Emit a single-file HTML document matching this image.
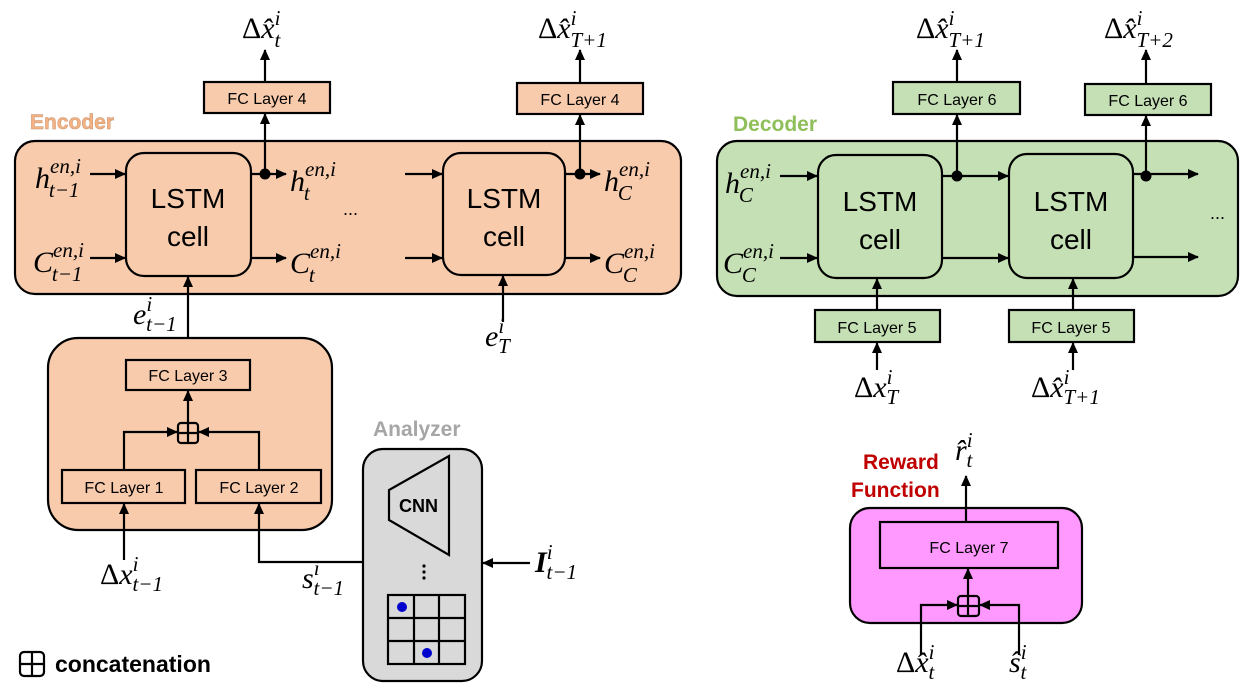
<!DOCTYPE html>
<html><head><meta charset="utf-8"><style>
body{margin:0;background:#fff}
svg{display:block}
.m{font-family:"Liberation Serif",serif;font-style:italic;font-size:30px}
.s{font-size:21px}
.fc{font-family:"Liberation Sans","DejaVu Sans",sans-serif;font-size:16px;text-anchor:middle}
.cell{font-family:"Liberation Sans","DejaVu Sans",sans-serif;font-size:28px;text-anchor:middle}
.lbl{font-family:"Liberation Sans","DejaVu Sans",sans-serif;font-weight:bold;font-size:21px}
</style></head><body>
<svg width="1256" height="700" viewBox="0 0 1256 700" xmlns="http://www.w3.org/2000/svg">
<defs><marker id="a" markerWidth="12" markerHeight="12" refX="10" refY="6" orient="auto" markerUnits="userSpaceOnUse"><path d="M0,1 L11,6 L0,11z" fill="#000"/></marker></defs>
<g stroke="#000" stroke-width="2.2">
<!-- Encoder -->
<rect x="15" y="141" width="666" height="153" rx="20" fill="#f8cbad"/>
<rect x="126" y="153" width="125" height="123" rx="18" fill="#f8cbad"/>
<rect x="443" y="153" width="122" height="122" rx="18" fill="#f8cbad"/>
<rect x="204" y="82" width="126" height="31" fill="#f8cbad"/>
<rect x="517" y="83" width="126" height="31" fill="#f8cbad"/>
<line x1="90" y1="174" x2="125" y2="174" marker-end="url(#a)"/>
<line x1="90" y1="258" x2="125" y2="258" marker-end="url(#a)"/>
<line x1="251" y1="174" x2="286" y2="174" marker-end="url(#a)"/>
<line x1="251" y1="258" x2="286" y2="258" marker-end="url(#a)"/>
<line x1="405" y1="174" x2="442" y2="174" marker-end="url(#a)"/>
<line x1="405" y1="258" x2="442" y2="258" marker-end="url(#a)"/>
<line x1="565" y1="174" x2="600" y2="174" marker-end="url(#a)"/>
<line x1="565" y1="258" x2="600" y2="258" marker-end="url(#a)"/>
<line x1="265" y1="174" x2="265" y2="114" marker-end="url(#a)"/>
<line x1="265" y1="82" x2="265" y2="50" marker-end="url(#a)"/>
<line x1="580" y1="174" x2="580" y2="115" marker-end="url(#a)"/>
<line x1="580" y1="83" x2="580" y2="50" marker-end="url(#a)"/>
<line x1="188" y1="360" x2="188" y2="277" marker-end="url(#a)"/>
<line x1="503" y1="322" x2="503" y2="276" marker-end="url(#a)"/>
<!-- bottom encoder block -->
<rect x="48" y="338" width="284" height="192" rx="30" fill="#f8cbad"/>
<rect x="126" y="360" width="124" height="30" fill="#f8cbad"/>
<rect x="62" y="470" width="123" height="33" fill="#f8cbad"/>
<rect x="196" y="470" width="125" height="33" fill="#f8cbad"/>
<line x1="188" y1="423" x2="188" y2="391" marker-end="url(#a)"/>
<polyline points="124,470 124,432 177,432" fill="none" marker-end="url(#a)"/>
<polyline points="259,470 259,432 199,432" fill="none" marker-end="url(#a)"/>
<rect x="178" y="423" width="20" height="20" rx="3" fill="none"/>
<line x1="188" y1="423" x2="188" y2="443"/><line x1="178" y1="433" x2="198" y2="433"/>
<line x1="124" y1="560" x2="124" y2="504" marker-end="url(#a)"/>
<polyline points="362,562 259,562 259,504" fill="none" marker-end="url(#a)"/>
<!-- Analyzer -->
<rect x="363" y="449" width="119" height="232" rx="20" fill="#d9d9d9"/>
<polygon points="449,456 449,555 389,520 389,490" fill="#d9d9d9"/>
<rect x="388" y="595" width="77" height="69" fill="none"/>
<line x1="414" y1="595" x2="414" y2="664"/><line x1="439" y1="595" x2="439" y2="664"/>
<line x1="388" y1="618" x2="465" y2="618"/><line x1="388" y1="641" x2="465" y2="641"/>
<line x1="530" y1="563" x2="483" y2="563" marker-end="url(#a)"/>
<!-- Decoder -->
<rect x="717" y="141" width="521" height="155" rx="20" fill="#c5e0b4"/>
<rect x="818" y="155" width="124" height="123" rx="18" fill="#c5e0b4"/>
<rect x="1009" y="154" width="124" height="124" rx="18" fill="#c5e0b4"/>
<rect x="893" y="82" width="127" height="32" fill="#c5e0b4"/>
<rect x="1085" y="84" width="126" height="31" fill="#c5e0b4"/>
<rect x="815" y="310" width="125" height="32" fill="#c5e0b4"/>
<rect x="1009" y="310" width="125" height="32" fill="#c5e0b4"/>
<line x1="780" y1="176" x2="817" y2="176" marker-end="url(#a)"/>
<line x1="780" y1="258" x2="817" y2="258" marker-end="url(#a)"/>
<line x1="942" y1="176" x2="1008" y2="176" marker-end="url(#a)"/>
<line x1="942" y1="258" x2="1008" y2="258" marker-end="url(#a)"/>
<line x1="1133" y1="174" x2="1198" y2="174" marker-end="url(#a)"/>
<line x1="1133" y1="257" x2="1198" y2="257" marker-end="url(#a)"/>
<line x1="957" y1="176" x2="957" y2="115" marker-end="url(#a)"/>
<line x1="957" y1="82" x2="957" y2="50" marker-end="url(#a)"/>
<line x1="1146" y1="176" x2="1146" y2="116" marker-end="url(#a)"/>
<line x1="1146" y1="84" x2="1146" y2="50" marker-end="url(#a)"/>
<line x1="877" y1="310" x2="877" y2="279" marker-end="url(#a)"/>
<line x1="1073" y1="310" x2="1073" y2="279" marker-end="url(#a)"/>
<line x1="877" y1="370" x2="877" y2="343" marker-end="url(#a)"/>
<line x1="1073" y1="370" x2="1073" y2="343" marker-end="url(#a)"/>
<!-- Reward -->
<rect x="850" y="508" width="232" height="115" rx="20" fill="#ff99ff"/>
<rect x="880" y="522" width="178" height="46" fill="#ff99ff"/>
<line x1="966" y1="522" x2="966" y2="476" marker-end="url(#a)"/>
<line x1="968" y1="596" x2="968" y2="569" marker-end="url(#a)"/>
<polyline points="921,655 921,605 957,605" fill="none" marker-end="url(#a)"/>
<polyline points="1019,655 1019,605 980,605" fill="none" marker-end="url(#a)"/>
<rect x="958" y="596" width="21" height="20" rx="3" fill="none"/>
<line x1="968" y1="596" x2="968" y2="616"/><line x1="958" y1="606" x2="979" y2="606"/>
<!-- legend -->
<rect x="20" y="652" width="24" height="24" rx="4" fill="none"/>
<line x1="32" y1="652" x2="32" y2="676"/><line x1="20" y1="664" x2="44" y2="664"/>
</g>
<g fill="#000">
<circle cx="265" cy="174" r="5.5"/><circle cx="580" cy="174" r="5.5"/>
<circle cx="957" cy="176" r="5.5"/><circle cx="1146" cy="176" r="5.5"/>
<circle cx="424" cy="566" r="1.6"/><circle cx="424" cy="572" r="1.6"/><circle cx="424" cy="578" r="1.6"/>
</g>
<circle cx="402" cy="607" r="5" fill="#0000cc"/><circle cx="427" cy="653" r="5" fill="#0000cc"/>
<!-- text -->
<g class="cell">
<text x="188" y="208">LSTM</text><text x="188" y="246">cell</text>
<text x="504" y="208">LSTM</text><text x="504" y="246">cell</text>
<text x="880" y="211">LSTM</text><text x="880" y="249">cell</text>
<text x="1071" y="211">LSTM</text><text x="1071" y="249">cell</text>
</g>
<g class="fc">
<text x="267" y="104">FC Layer 4</text><text x="580" y="105">FC Layer 4</text>
<text x="188" y="381">FC Layer 3</text><text x="124" y="493">FC Layer 1</text><text x="259" y="493">FC Layer 2</text>
<text x="957" y="105">FC Layer 6</text><text x="1148" y="106">FC Layer 6</text>
<text x="877" y="333">FC Layer 5</text><text x="1071" y="333">FC Layer 5</text>
<text x="969" y="553">FC Layer 7</text>
</g>
<text x="30" y="129" class="lbl" fill="#f4b183" stroke="#c9956f" stroke-width="0.5">Encoder</text>
<text x="733" y="131" class="lbl" fill="#8fbf5a">Decoder</text>
<text x="373" y="436" class="lbl" fill="#a6a6a6" font-size="20">Analyzer</text>
<text x="863" y="469" class="lbl" fill="#c00000">Reward</text>
<text x="851" y="497" class="lbl" fill="#c00000">Function</text>
<text x="399" y="512" font-family="Liberation Sans,sans-serif" font-weight="bold" font-size="18">CNN</text>
<text x="55" y="672" font-family="Liberation Sans,sans-serif" font-weight="bold" font-size="23">concatenation</text>
<text x="343" y="215" font-family="Liberation Sans,sans-serif" font-size="18">...</text>
<text x="1210" y="219" font-family="Liberation Sans,sans-serif" font-size="18">...</text>
<g class="m">
<text x="242" y="38"><tspan font-style="normal">Δ</tspan>x̂<tspan class="s" dy="-13">i</tspan><tspan class="s" dx="-6" dy="22">t</tspan></text>
<text x="538" y="38"><tspan font-style="normal">Δ</tspan>x̂<tspan class="s" dy="-13">i</tspan><tspan class="s" dx="-6" dy="22">T+1</tspan></text>
<text x="35" y="188">h<tspan class="s" dy="-15">en,i</tspan><tspan class="s" dx="-32" dy="24">t−1</tspan></text>
<text x="33" y="272">C<tspan class="s" dy="-15">en,i</tspan><tspan class="s" dx="-32" dy="24">t−1</tspan></text>
<text x="290" y="191">h<tspan class="s" dy="-15">en,i</tspan><tspan class="s" dx="-32" dy="24">t</tspan></text>
<text x="290" y="273">C<tspan class="s" dy="-15">en,i</tspan><tspan class="s" dx="-32" dy="24">t</tspan></text>
<text x="604" y="191">h<tspan class="s" dy="-15">en,i</tspan><tspan class="s" dx="-32" dy="24">C</tspan></text>
<text x="604" y="273">C<tspan class="s" dy="-15">en,i</tspan><tspan class="s" dx="-32" dy="24">C</tspan></text>
<text x="133" y="324">e<tspan class="s" dy="-13">i</tspan><tspan class="s" dx="-6" dy="20">t−1</tspan></text>
<text x="485" y="346">e<tspan class="s" dy="-13">i</tspan><tspan class="s" dx="-6" dy="20">T</tspan></text>
<text x="100" y="584"><tspan font-style="normal">Δ</tspan>x<tspan class="s" dy="-13">i</tspan><tspan class="s" dx="-6" dy="20">t−1</tspan></text>
<text x="302" y="588">s<tspan class="s" dy="-13">i</tspan><tspan class="s" dx="-6" dy="20">t−1</tspan></text>
<text x="535" y="572" font-weight="bold">I<tspan class="s" font-weight="normal" dy="-13">i</tspan><tspan class="s" font-weight="normal" dx="-6" dy="20">t−1</tspan></text>
<text x="725" y="193">h<tspan class="s" dy="-15">en,i</tspan><tspan class="s" dx="-32" dy="24">C</tspan></text>
<text x="723" y="273">C<tspan class="s" dy="-15">en,i</tspan><tspan class="s" dx="-32" dy="24">C</tspan></text>
<text x="916" y="38"><tspan font-style="normal">Δ</tspan>x̂<tspan class="s" dy="-13">i</tspan><tspan class="s" dx="-6" dy="22">T+1</tspan></text>
<text x="1104" y="38"><tspan font-style="normal">Δ</tspan>x̂<tspan class="s" dy="-13">i</tspan><tspan class="s" dx="-6" dy="22">T+2</tspan></text>
<text x="854" y="397"><tspan font-style="normal">Δ</tspan>x<tspan class="s" dy="-13">i</tspan><tspan class="s" dx="-6" dy="20">T</tspan></text>
<text x="1031" y="397"><tspan font-style="normal">Δ</tspan>x̂<tspan class="s" dy="-13">i</tspan><tspan class="s" dx="-6" dy="20">T+1</tspan></text>
<text x="955" y="460">r̂<tspan class="s" dy="-13">i</tspan><tspan class="s" dx="-6" dy="20">t</tspan></text>
<text x="896" y="672"><tspan font-style="normal">Δ</tspan>x̂<tspan class="s" dy="-13">i</tspan><tspan class="s" dx="-6" dy="20">t</tspan></text>
<text x="1009" y="672">ŝ<tspan class="s" dy="-13">i</tspan><tspan class="s" dx="-6" dy="20">t</tspan></text>
</g>
</svg>
</body></html>
